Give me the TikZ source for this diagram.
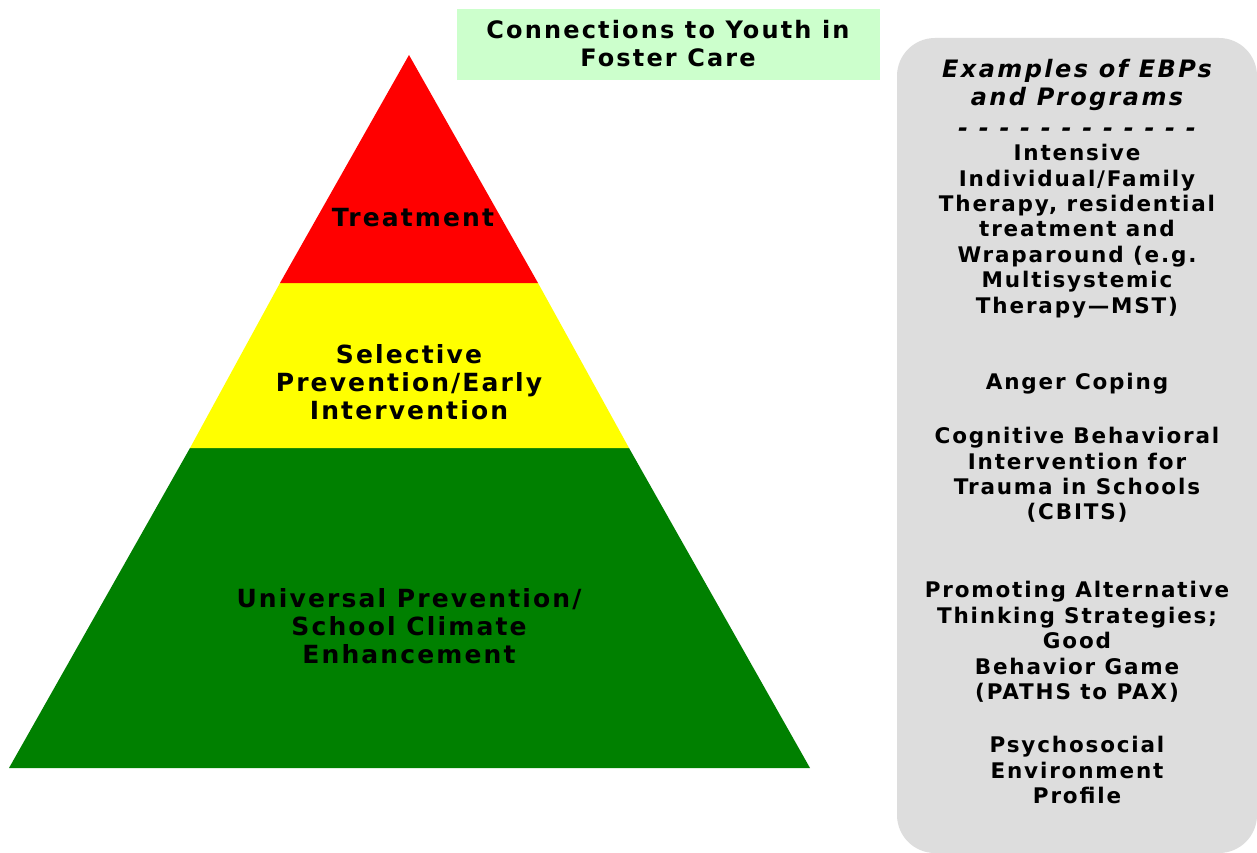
\documentclass[tikz,border=0pt]{standalone}
\usepackage{fontspec}
\setmainfont{DejaVu Sans}
\newfontfamily\pyrfont{DejaVu Sans}[LetterSpace=8.5]
\newfontfamily\titlefont{DejaVu Sans}[LetterSpace=9]
\newfontfamily\panelfont{DejaVu Sans}[LetterSpace=8.5]
\newfontfamily\headfont{DejaVu Sans}[LetterSpace=10]
\definecolor{tred}{HTML}{FF0000}
\definecolor{tyellow}{HTML}{FFFF00}
\definecolor{tgreen}{HTML}{008000}
\definecolor{panelgray}{HTML}{DDDDDD}
\definecolor{titlegreen}{HTML}{CCFFCC}
\tikzset{
  lbl/.style={align=center, inner sep=0pt, text=black, font=\panelfont\bfseries\fontsize{21.5}{25.4}\selectfont},
  headlbl/.style={align=center, inner sep=0pt, text=black, font=\headfont\bfseries\itshape\fontsize{24}{28}\selectfont},
  pyrlbl/.style={align=center, inner sep=0pt, text=black, font=\pyrfont\bfseries\fontsize{25}{27.8}\selectfont},
  titlelbl/.style={align=center, inner sep=0pt, text=black, font=\titlefont\bfseries\fontsize{24}{28}\selectfont},
  tier/.style={draw=none},
}
\begin{document}
\begin{tikzpicture}[x=1pt,y=-1pt]
\useasboundingbox (0,0) rectangle (1257,853);
\fill[white] (0,0) rectangle (1257,853);
% pyramid tiers
\fill[tier, tgreen] (190,448) -- (629,448) -- (810,768) -- (9,768) -- cycle;
\fill[tier, tyellow] (280,283) -- (538,283) -- (629,448) -- (190,448) -- cycle;
\fill[tier, tred] (409,55) -- (538,283) -- (280,283) -- cycle;
\node[pyrlbl] (treat) at (413,218) {Treatment};
\node[pyrlbl] (select) at (409,382) {Selective\\Prevention/Early\\Intervention};
\node[pyrlbl] (univ) at (409,626) {Universal Prevention/\\School Climate\\Enhancement};
% title
\fill[titlegreen] (457,9) rectangle (880,80);
\node[titlelbl] (title) at (668,44) {Connections to Youth in\\Foster Care};
% right panel
\fill[panelgray, rounded corners=38pt] (897,38) rectangle (1257,853);
\node[headlbl] (ex) at (1077,85) {Examples of EBPs\\and Programs};
\node[headlbl] (dash) at (1077,132) {- - - - - - - - - - - -};
\node[lbl] (intensive) at (1077,231) {Intensive\\Individual/Family\\Therapy, residential\\treatment and\\Wraparound (e.g.\\Multisystemic\\Therapy—MST)};
\node[lbl] (anger) at (1077,384) {Anger Coping};
\node[lbl] (cbits) at (1077,475) {Cognitive Behavioral\\Intervention for\\Trauma in Schools\\(CBITS)};
\node[lbl] (paths) at (1077,642) {Promoting Alternative\\Thinking Strategies;\\Good\\Behavior Game\\(PATHS to PAX)};
\node[lbl] (psy) at (1077,770) {Psychosocial\\Environment\\Profile};
\end{tikzpicture}
\end{document}
